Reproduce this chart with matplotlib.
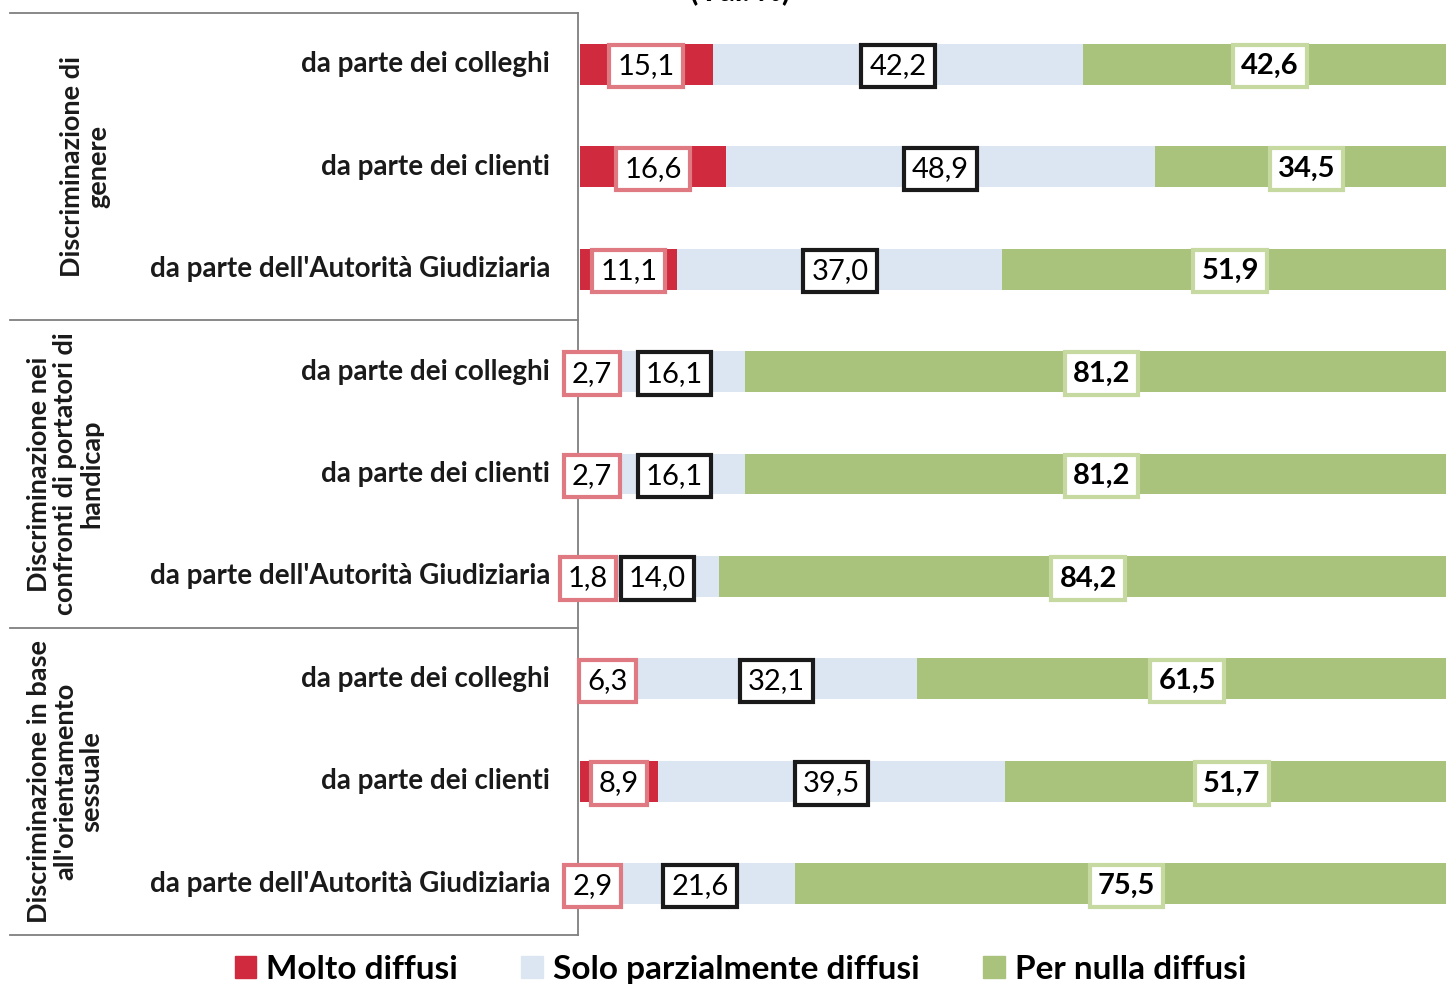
import matplotlib.pyplot as plt
import matplotlib.transforms as mtransforms
from matplotlib.patches import Patch

# righe (dall'alto in basso)
row_labels = [
    "da parte dei colleghi", "da parte dei clienti", "da parte dell'Autorità Giudiziaria",
    "da parte dei colleghi", "da parte dei clienti", "da parte dell'Autorità Giudiziaria",
    "da parte dei colleghi", "da parte dei clienti", "da parte dell'Autorità Giudiziaria",
]
group_labels = [
    "Discriminazione di\ngenere",
    "Discriminazione nei\nconfronti di portatori di\nhandicap",
    "Discriminazione in base\nall'orientamento\nsessuale",
]
molto = [15.1, 16.6, 11.1, 2.7, 2.7, 1.8, 6.3, 8.9, 2.9]
parziale = [42.2, 48.9, 37.0, 16.1, 16.1, 14.0, 32.1, 39.5, 21.6]
per_nulla = [42.6, 34.5, 51.9, 81.2, 81.2, 84.2, 61.5, 51.7, 75.5]
series_names = ["Molto diffusi", "Solo parzialmente diffusi", "Per nulla diffusi"]

RED = "#cf2a3d"
BLUE = "#dce6f2"
GREEN = "#a9c27c"
RED_EDGE = "#e07a82"
BLACK_EDGE = "#1a1a1a"
GREEN_EDGE = "#c6d9a0"

W, H = 1446, 990
fig = plt.figure(figsize=(W / 100, H / 100), dpi=100)
fig.patch.set_facecolor("white")

# asse: 0% a x=580px, 100% a ~1458px (tagliato a destra)
ax = fig.add_axes([580 / W, 1 - 935 / H, 878 / W, 922 / H])
ax.set_xlim(0, 100)
ax.set_ylim(8.5, -0.5)
ax.axis("off")

y = list(range(len(row_labels)))
left2 = [a for a in molto]
left3 = [a + b for a, b in zip(molto, parziale)]
ax.barh(y, molto, height=0.4, color=RED)
ax.barh(y, parziale, left=left2, height=0.4, color=BLUE)
ax.barh(y, per_nulla, left=left3, height=0.4, color=GREEN)

font = "Lato"


def fmt(v):
    return f"{v:.1f}".replace(".", ",")


box = "square,pad=0.28"
for i in y:
    ax.text(molto[i] / 2, i + 0.02, fmt(molto[i]), ha="center", va="center",
            fontsize=21, family=font,
            bbox=dict(boxstyle=box, fc="white", ec=RED_EDGE, lw=3))
    ax.text(left2[i] + parziale[i] / 2, i + 0.02, fmt(parziale[i]), ha="center", va="center",
            fontsize=21, family=font,
            bbox=dict(boxstyle=box, fc="white", ec=BLACK_EDGE, lw=3))
    ax.text(left3[i] + per_nulla[i] / 2, i + 0.02, fmt(per_nulla[i]), ha="center", va="center",
            fontsize=21, family=font, fontweight="bold",
            bbox=dict(boxstyle=box, fc="white", ec=GREEN_EDGE, lw=3))

# etichette di riga e cornice dei gruppi
tr = mtransforms.blended_transform_factory(fig.transFigure, ax.transData)
for i, lab in enumerate(row_labels):
    ax.text(550 / W, i, lab, transform=tr, ha="right", va="center",
            fontsize=20, family=font, fontweight="bold", color="#1a1a1a")

line_col = "#7f7f7f"
for yb in [-0.5, 2.5, 5.5, 8.5]:
    ax.plot([10 / W, 578 / W], [yb, yb], transform=tr, color=line_col, lw=1.3, clip_on=False)
ax.plot([578 / W, 578 / W], [-0.5, 8.5], transform=tr, color=line_col, lw=1.3, clip_on=False)

group_x = [85, 65, 65]
for g, lab in enumerate(group_labels):
    ax.text(group_x[g] / W, 3 * g + 1, lab, transform=tr, rotation=90,
            ha="center", va="center", multialignment="center",
            fontsize=19.5, family=font, fontweight="bold", color="#1a1a1a", linespacing=1.1)

fig.text(740 / W, 1 - 5 / H, "(Val. %)", ha="center", va="bottom",
         fontsize=22, family=font, fontweight="bold")

handles = [Patch(color=RED), Patch(color=BLUE), Patch(color=GREEN)]
fig.legend(handles, series_names, loc="lower center", bbox_to_anchor=(0.512, -0.024),
           ncol=3, frameon=False, prop={"family": font, "size": 24, "weight": "bold"},
           handlelength=0.65, handleheight=0.65, handletextpad=0.3, columnspacing=1.9)

fig.savefig("out.png", dpi=100)
